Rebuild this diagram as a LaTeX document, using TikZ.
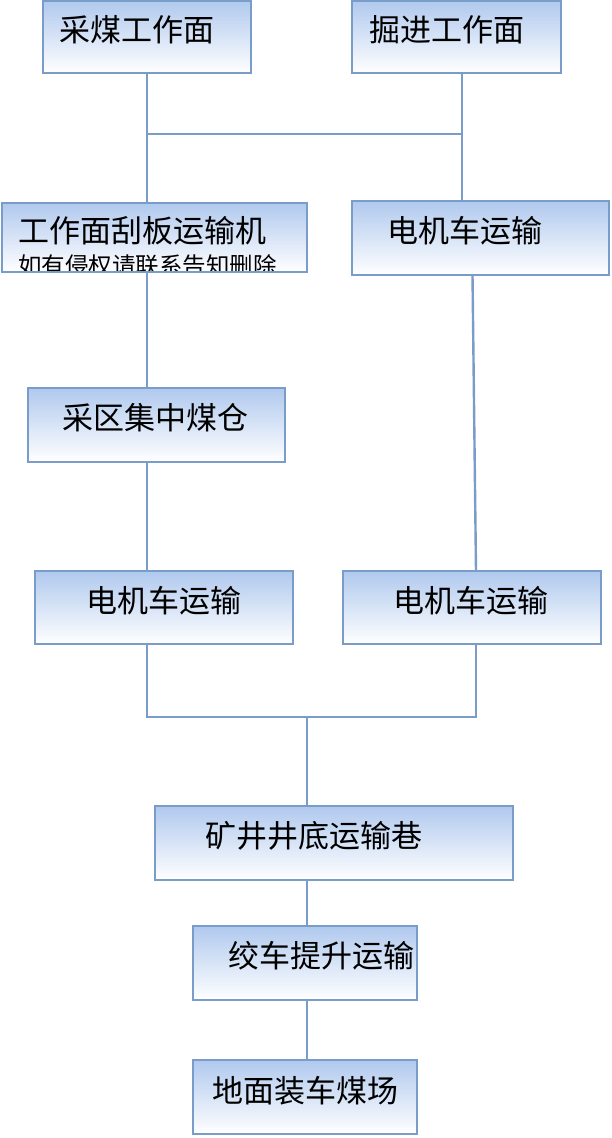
\documentclass[tikz,border=0pt]{standalone}
\usepackage{fontspec}
\newfontfamily\cjk{Noto Sans CJK SC}
\usepackage{xcolor}
\usepackage{tikz}
\usetikzlibrary{calc, positioning}
\definecolor{boxedge}{RGB}{122,156,200}
\definecolor{boxtop}{RGB}{176,201,238}

\begin{document}
\begin{tikzpicture}[x=1pt, y=-1pt, font=\cjk\fontsize{31}{33}\selectfont,
    stage/.style={draw=boxedge, line width=2.4pt, top color=boxtop, bottom color=white,
        inner sep=0pt, outer sep=0pt},
    link/.style={draw=boxedge, line width=2.4pt}]
    \useasboundingbox (0,0) rectangle (612,1138);

    % Working faces
    \node[stage, minimum width=208, minimum height=72,
        label={[xshift=-10pt, yshift=7.5pt]center:采煤工作面}] (mining) at (147,37) {};
    \node[stage, minimum width=209, minimum height=72,
        label={[xshift=-9.5pt, yshift=7.5pt]center:掘进工作面}] (heading) at (456.5,37) {};

    % First haulage
    \node[stage, minimum width=305, minimum height=69,
        label={[xshift=-11.5pt, yshift=7pt]center:工作面刮板运输机}] (conveyor) at (154.5,237.5) {};
    \begin{scope}
        \clip ($(conveyor.south west)+(1.2,-1.2)$) rectangle ($(conveyor.north east)+(-1.2,1.2)$);
        \node[font=\cjk\fontsize{23.5}{24}\selectfont, inner sep=0pt, anchor=north] (note) at (147.5,254) {如有侵权请联系告知删除};
    \end{scope}
    \node[stage, minimum width=257, minimum height=74,
        label={[xshift=-15.5pt, yshift=7pt]center:电机车运输}] (loco1) at (480.5,238) {};

    % Bunker and locomotives
    \node[stage, minimum width=257, minimum height=74,
        label={[xshift=-1.5pt, yshift=7pt]center:采区集中煤仓}] (bunker) at (156.5,425) {};
    \node[stage, minimum width=258, minimum height=73,
        label={[yshift=6.5pt]center:电机车运输}] (loco2) at (164,607.5) {};
    \node[stage, minimum width=258, minimum height=73,
        label={[xshift=-1pt, yshift=6.5pt]center:电机车运输}] (loco3) at (472,607.5) {};

    % Shaft bottom and surface
    \node[stage, minimum width=358, minimum height=74,
        label={[xshift=-20pt, yshift=7pt]center:矿井井底运输巷}] (shaft) at (334,843) {};
    \node[stage, minimum width=224, minimum height=74,
        label={[xshift=16pt, yshift=7pt]center:绞车提升运输}] (hoist) at (305,963) {};
    \node[stage, minimum width=224, minimum height=74,
        label={[yshift=6pt]center:地面装车煤场}] (yard) at (305,1097) {};

    % Connectors
    \coordinate (jl) at (147,134);
    \coordinate (jr) at (462,134);
    \coordinate (jm) at (307,717);
    \coordinate (jb) at (476,717);
    \draw[link] (mining.south -| jl) -- (jl) -- (jr) -- (heading.south -| jr);
    \draw[link] (jl) -- (jl |- conveyor.north);
    \draw[link] (jr) -- (jr |- loco1.north);
    \draw[link] (conveyor.south -| jl) -- (jl |- bunker.north);
    \draw[link] ($(loco1.south)+(-8,0)$) -- ($(loco3.north)+(4,0)$);
    \draw[link] (bunker.south -| jl) -- (jl |- loco2.north);
    \draw[link] (loco2.south -| jl) |- (jb) -- (jb |- loco3.south);
    \draw[link] (jm) -- (jm |- shaft.north);
    \draw[link] (shaft.south -| jm) -- (jm |- hoist.north);
    \draw[link] (hoist.south -| jm) -- (jm |- yard.north);
\end{tikzpicture}
\end{document}
